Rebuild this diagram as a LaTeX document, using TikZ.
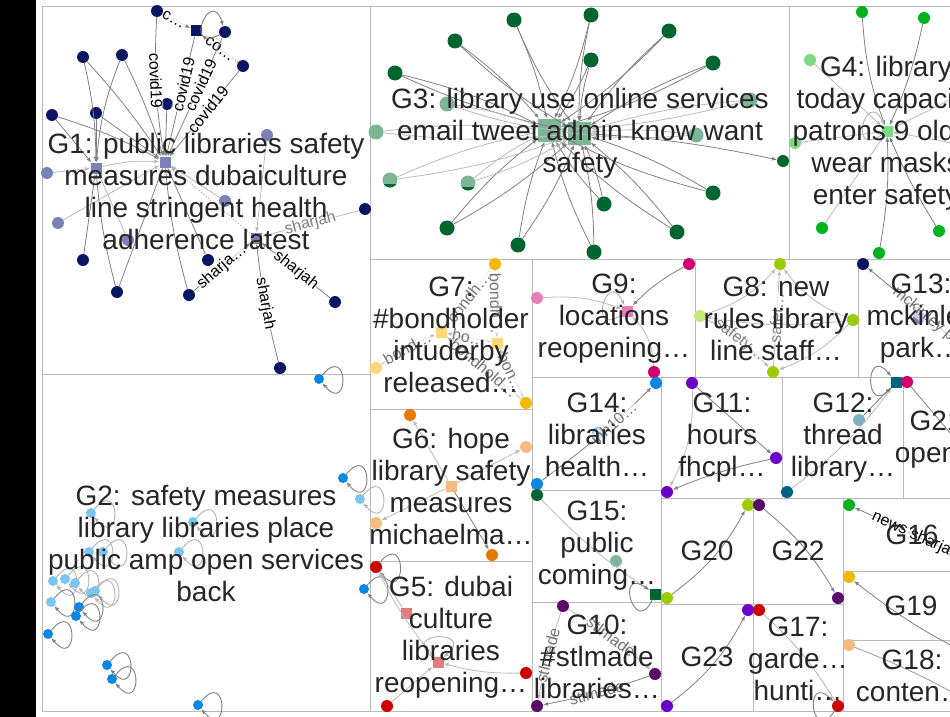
\documentclass[tikz,border=0pt]{standalone}
\usepackage{fontspec}
\setmainfont{Liberation Sans}
\usetikzlibrary{arrows.meta}

\definecolor{navy}{HTML}{0B1663}
\definecolor{slate}{HTML}{7B82B8}
\definecolor{azure}{HTML}{0A86E3}
\definecolor{skyblue}{HTML}{7CC5F0}
\definecolor{forest}{HTML}{00652F}
\definecolor{sage}{HTML}{7DB596}
\definecolor{grass}{HTML}{00B31E}
\definecolor{mint}{HTML}{7FD984}
\definecolor{amber}{HTML}{F5B800}
\definecolor{cream}{HTML}{FFD77A}
\definecolor{berry}{HTML}{D1006F}
\definecolor{rose}{HTML}{E87DB8}
\definecolor{lime}{HTML}{9BCB00}
\definecolor{palelime}{HTML}{C9E67D}
\definecolor{tangerine}{HTML}{E67A00}
\definecolor{peach}{HTML}{F5BB80}
\definecolor{crimson}{HTML}{CC0000}
\definecolor{salmon}{HTML}{E07E7E}
\definecolor{violet}{HTML}{6C00C8}
\definecolor{plum}{HTML}{5C0A6A}
\definecolor{petrol}{HTML}{00637F}
\definecolor{aqua}{HTML}{7FB1C4}

\begin{document}
\begin{tikzpicture}[
    x=1pt, y=-1pt,
    >={Latex[length=5pt,width=4pt]},
    group/.style={draw=black!27, line width=0.8pt},
    glabel/.style={text=black!85, align=center, inner sep=0pt,
        font=\fontsize{28}{32}\selectfont},
    vtx/.style={circle, fill=#1, inner sep=0pt, minimum size=12pt},
    bigvtx/.style={circle, fill=#1, inner sep=0pt, minimum size=15pt},
    smallvtx/.style={circle, fill=#1, inner sep=0pt, minimum size=10pt},
    halfvtx/.style 2 args={circle, inner sep=0pt, minimum size=15pt, fill=#1,
        path picture={\fill[#2] ([yshift=4pt]path picture bounding box.south west)
        rectangle (path picture bounding box.south east);}},
    hub/.style={rectangle, fill=#1, inner sep=0pt, minimum size=11pt},
    bighub/.style={rectangle, fill=#1, inner sep=0pt, minimum size=23pt},
    link/.style={->, draw=black!50, line width=0.8pt},
    flink/.style={->, draw=black!27, line width=0.8pt},
    dlink/.style={->, draw=black!50, line width=1pt, dotted},
    selfloop/.style={->, draw=black!50, line width=0.9pt},
    fselfloop/.style={->, draw=black!30, line width=0.9pt},
    around/.style={out=#1+50, in=#1-50, min distance=42pt},
    elabel/.style={font=\fontsize{16}{17}\selectfont, sloped, inner sep=0.5pt,
        fill=white, fill opacity=0.6, text opacity=1}
]
\useasboundingbox (0,0) rectangle (950,717);
\fill[black] (0,0) rectangle (36,717);
\begin{scope}
\clip (36,0) rectangle (950,717);

% group boxes
\draw[group] (42,6) rectangle (370,374);
\draw[group] (42,374) rectangle (370,711);
\draw[group] (370,6) rectangle (789,259);
\draw[group] (789,6) rectangle (990,259);
\draw[group] (370,259) rectangle (532,409);
\draw[group] (370,409) rectangle (532,561);
\draw[group] (370,561) rectangle (532,711);
\draw[group] (532,259) rectangle (695,377);
\draw[group] (695,259) rectangle (858,377);
\draw[group] (858,259) rectangle (990,377);
\draw[group] (532,377) rectangle (661,490);
\draw[group] (532,490) rectangle (661,602);
\draw[group] (532,602) rectangle (661,711);
\draw[group] (661,377) rectangle (782,498);
\draw[group] (782,377) rectangle (903,498);
\draw[group] (903,377) rectangle (990,498);
\draw[group] (661,498) rectangle (753,604);
\draw[group] (753,498) rectangle (843,604);
\draw[group] (661,604) rectangle (753,711);
\draw[group] (753,604) rectangle (843,711);
\draw[group] (843,498) rectangle (990,571);
\draw[group] (843,571) rectangle (990,640);
\draw[group] (843,640) rectangle (990,711);

% G1
\node[vtx=navy] (g1a) at (157,11) {};
\node[hub=navy] (g1sq) at (196,31) {};
\node[vtx=navy] (g1b) at (225,32) {};
\node[vtx=navy] (g1c) at (243,66) {};
\node[vtx=navy] (g1d) at (83,57) {};
\node[vtx=navy] (g1e) at (122,55) {};
\node[vtx=navy] (g1f) at (52,115) {};
\node[vtx=navy] (g1g) at (96,113) {};
\node[vtx=navy] (g1h) at (167,104) {};
\node[hub=slate] (g1left) at (96,168) {};
\node[hub=slate] (g1mid) at (165,162) {};
\node[vtx=slate] (g1i) at (47,173) {};
\node[vtx=slate] (g1j) at (58,223) {};
\node[vtx=slate] (g1k) at (267,135) {};
\node[vtx=slate] (g1l) at (225,201) {};
\node[vtx=slate] (g1m) at (128,240) {};
\node[hub=slate] (g1low) at (256,238) {};
\node[vtx=navy] (g1n) at (83,260) {};
\node[vtx=navy] (g1o) at (117,292) {};
\node[vtx=navy] (g1p) at (208,260) {};
\node[vtx=navy] (g1q) at (189,295) {};
\node[vtx=navy] (g1r) at (335,302) {};
\node[vtx=navy] (g1s) at (280,368) {};
\node[vtx=navy] (g1t) at (365,209) {};

\draw[dlink] (g1a) -- node[elabel, pos=0.4] {c…} (g1sq);
\draw[dlink] (g1c) -- node[elabel] {co…} (g1sq);
\draw[selfloop] (g1b) to[around=157] (g1b);
\draw[link] (g1a) to[bend right=6] node[elabel, pos=0.45] {covid19} (g1mid);
\draw[link] (g1sq) -- node[elabel, pos=0.4] {covid19} (g1mid);
\draw[link] (g1b) -- node[elabel, pos=0.4] {covid19} (g1mid);
\draw[link] (g1c) -- node[elabel, pos=0.45] {covid19} (g1mid);
\draw[link] (g1d) to[bend left=6] (g1left);
\draw[link] (g1d) to[bend left=4] (g1mid);
\draw[link] (g1e) to[bend right=8] (g1left);
\draw[link] (g1e) to[bend left=4] (g1mid);
\draw[link] (g1f) -- (g1left);
\draw[link] (g1f) to[bend left=5] (g1mid);
\draw[link] (g1g) -- (g1left);
\draw[link] (g1g) -- (g1mid);
\draw[link] (g1h) -- (g1mid);
\draw[flink] (g1i) -- (g1left);
\draw[flink] (g1j) -- (g1mid);
\draw[flink] (g1m) -- (g1left);
\draw[link] (g1n) -- (g1left);
\draw[link] (g1o) to[bend left=5] (g1left);
\draw[link] (g1o) -- (g1mid);
\draw[link] (g1p) -- (g1mid);
\draw[link] (g1q) to[bend left=5] (g1mid);
\draw[flink] (g1left) to[bend left=8] (g1mid);
\draw[flink] (g1l) -- (g1mid);
\draw[flink] (g1k) -- (g1low);
\draw[dlink, draw=black!35] (g1low) -- (g1mid);
\draw[flink] (g1t) -- node[elabel, text=black!50] {sharjah} (g1low);
\draw[link] (g1q) -- node[elabel] {sharja…} (g1low);
\draw[link] (g1r) -- node[elabel] {sharjah} (g1low);
\draw[link] (g1s) to[bend left=4] node[elabel] {sharjah} (g1low);

% G2
\foreach \x/\y/\c/\s [count=\i] in {
    319/379/azure/selfloop, 343/478/azure/selfloop, 360/499/skyblue/fselfloop,
    364/589/azure/selfloop, 91/513/skyblue/fselfloop, 193/522/skyblue/fselfloop,
    179/552/skyblue/fselfloop, 89/552/skyblue/fselfloop, 103/552/skyblue/fselfloop,
    53/581/skyblue/fselfloop, 65/579/skyblue/fselfloop, 75/583/skyblue/fselfloop,
    91/593/skyblue/fselfloop, 95/591/skyblue/fselfloop, 51/602/skyblue/selfloop,
    79/607/azure/selfloop, 76/616/azure/selfloop, 48/634/azure/selfloop,
    107/665/azure/selfloop, 112/679/azure/selfloop, 198/705/azure/selfloop} {
  \node[smallvtx=\c] (g2n\i) at (\x,\y) {};
  \draw[\s] (g2n\i) to[around=0] (g2n\i);
}

% G3
\node[bighub=sage] (g3hub) at (549,130) {};
\node[bighub=sage] (g3huba) at (579,133) {};
\node[bigvtx=forest] (g3a) at (514,20) {};
\node[bigvtx=forest] (g3b) at (591,15) {};
\node[bigvtx=forest] (g3c) at (669,31) {};
\node[bigvtx=forest] (g3d) at (455,41) {};
\node[bigvtx=forest] (g3e) at (591,60) {};
\node[bigvtx=forest] (g3f) at (713,63) {};
\node[bigvtx=forest] (g3g) at (395,73) {};
\node[bigvtx=sage] (g3h) at (750,100) {};
\node[bigvtx=sage] (g3i) at (447,104) {};
\node[bigvtx=sage] (g3j) at (376,132) {};
\node[bigvtx=sage] (g3k) at (696,135) {};
\node[vtx=forest] (g3l) at (783,161) {};
\node[halfvtx={sage}{forest}] (g3m) at (390,180) {};
\node[halfvtx={sage}{forest}] (g3n) at (468,183) {};
\node[bigvtx=forest] (g3o) at (713,193) {};
\node[bigvtx=forest] (g3p) at (604,204) {};
\node[bigvtx=forest] (g3q) at (447,228) {};
\node[bigvtx=forest] (g3r) at (677,232) {};
\node[bigvtx=forest] (g3s) at (518,245) {};
\node[bigvtx=forest] (g3t) at (594,252) {};
\foreach \n in {g3a,g3b,g3c,g3d,g3e,g3f,g3g,g3o,g3p,g3q,g3r,g3s,g3t} {
  \draw[link] (\n) to[bend left=6] (g3hub);
  \draw[link] (\n) to[bend right=6] (g3huba);
}
\foreach \n in {g3h,g3i,g3j,g3k,g3m,g3n} {
  \draw[flink] (\n) to[bend left=6] (g3hub);
  \draw[flink] (\n) to[bend right=6] (g3huba);
}
\draw[link] (g3huba) to[bend left=4] (g3l);

% G4
\node[hub=mint] (g4hub) at (887,131) {};
\node[vtx=grass] (g4a) at (862,12) {};
\node[vtx=grass] (g4b) at (924,18) {};
\node[vtx=mint] (g4c) at (810,60) {};
\node[vtx=mint] (g4d) at (795,143) {};
\node[vtx=grass] (g4e) at (822,228) {};
\node[vtx=grass] (g4f) at (939,231) {};
\node[vtx=grass] (g4g) at (879,253) {};
\coordinate (g4x) at (990,80);
\coordinate (g4y) at (990,150);
\draw[link] (g4a) to[bend right=8] (g4hub);
\draw[link] (g4b) to[bend left=6] (g4hub);
\draw[flink] (g4c) -- (g4hub);
\draw[flink] (g4d) -- (g4hub);
\draw[flink] (g4e) -- (g4hub);
\draw[link] (g4f) to[bend left=4] (g4hub);
\draw[link] (g4g) to[bend right=6] (g4hub);
\draw[flink] (g4x) -- (g4hub);
\draw[flink] (g4y) -- (g4hub);
\draw[fselfloop] (g4hub) to[around=165] (g4hub);

% G7
\node[vtx=amber] (g7a) at (495,264) {};
\node[hub=cream] (g7sq) at (441,332) {};
\node[hub=cream] (g7sqb) at (497,343) {};
\node[vtx=cream] (g7b) at (376,368) {};
\node[vtx=amber] (g7c) at (526,403) {};
\draw[flink, dotted, line width=1pt] (g7a) -- node[elabel, text=black!55] {bondh…} (g7sq);
\draw[flink, dotted, line width=1pt] (g7a) -- node[elabel, text=black!55] {bondh…} (g7sqb);
\draw[flink] (g7sqb) -- node[elabel, text=black!55] {bo…} (g7sq);
\draw[flink] (g7b) to[bend left=6] node[elabel, text=black!55] {bond…} (g7sq);
\draw[flink] (g7c) -- node[elabel, text=black!55] {bondhold…} (g7sq);
\draw[flink] (g7c) -- node[elabel, text=black!55] {bon…} (g7sqb);

% G9
\node[vtx=berry] (g9a) at (689,264) {};
\node[hub=rose] (g9sq) at (627,311) {};
\node[vtx=rose] (g9b) at (537,298) {};
\node[vtx=berry] (g9c) at (654,372) {};
\draw[link] (g9a) to[bend right=8] (g9sq);
\draw[flink] (g9b) to[bend left=12] (g9sq);
\draw[flink] (g9c) to[bend right=20] (g9sq);
\draw[fselfloop] (g9sq) to[around=165] (g9sq);

% G8
\node[vtx=lime] (g8a) at (780,264) {};
\node[vtx=palelime] (g8b) at (700,316) {};
\node[vtx=lime] (g8c) at (853,320) {};
\node[vtx=lime] (g8d) at (773,372) {};
\draw[flink] (g8b) to[bend right=15] (g8a);
\draw[flink] (g8c) to[bend left=15] (g8a);
\draw[flink] (g8c) to[bend left=8] (g8b);
\draw[flink] (g8d) -- node[elabel, text=black!50] {safet…} (g8a);
\draw[flink] (g8b) to[bend left=10] node[elabel, text=black!50] {safety…} (g8d);
\draw[flink] (g8c) to[bend left=12] (g8d);

% G13
\node[vtx=navy] (g13a) at (863,264) {};
\node[vtx=slate] (g13b) at (919,318) {};
\coordinate (g13out) at (985,365);
\draw[link] (g13out) -- node[elabel, text=black!55, pos=0.45] {mckinley park} (g13a);

% G12
\node[hub=petrol] (g12sq) at (896,382) {};
\node[vtx=aqua] (g12a) at (859,420) {};
\node[vtx=petrol] (g12b) at (787,492) {};
\draw[flink] (g12b) to[bend right=8] (g12sq);
\draw[link] (g12a) -- (g12sq);
\draw[selfloop] (g12sq) to[around=180] (g12sq);

% G21
\node[vtx=berry] (g21a) at (907,382) {};
\coordinate (g21out) at (990,480);
\draw[draw=black!50, line width=0.8pt] (g21a) -- (g21out);

% G11
\node[vtx=violet] (g11a) at (692,383) {};
\node[vtx=violet] (g11b) at (776,458) {};
\node[vtx=violet] (g11c) at (667,492) {};
\draw[link] (g11a) -- (g11b);
\draw[flink] (g11a) to[bend left=15] (g11c);
\draw[link] (g11b) to[bend right=5] (g11c);

% G14
\node[vtx=azure] (g14a) at (656,383) {};
\node[vtx=skyblue] (g14b) at (598,433) {};
\node[vtx=azure] (g14c) at (537,484) {};
\draw[link] (g14c) to[bend right=4] node[elabel, text=black!55, pos=0.65] {inh10…} (g14a);

% G6
\node[hub=peach] (g6sq) at (451,486) {};
\node[vtx=tangerine] (g6a) at (410,415) {};
\node[vtx=peach] (g6b) at (526,447) {};
\node[vtx=peach] (g6c) at (376,523) {};
\node[vtx=tangerine] (g6d) at (492,555) {};
\draw[flink] (g6sq) -- (g6a);
\draw[flink] (g6sq) -- (g6b);
\draw[flink] (g6sq) -- (g6c);
\draw[link] (g6sq) -- (g6d);

% G5
\node[vtx=crimson] (g5a) at (376,567) {};
\node[hub=salmon] (g5sq) at (406,613) {};
\node[hub=salmon] (g5sqb) at (438,662) {};
\node[vtx=crimson] (g5b) at (526,673) {};
\node[vtx=crimson] (g5c) at (387,706) {};
\draw[selfloop] (g5a) to[around=0] (g5a);
\draw[fselfloop] (g5sqb) to[around=90] (g5sqb);
\draw[flink] (g5sq) -- (g5a);
\draw[flink] (g5sqb) to[bend left=6] (g5a);
\draw[flink] (g5b) to[bend left=8] (g5sqb);
\draw[flink] (g5c) -- (g5sqb);

% G15
\node[vtx=forest] (g15a) at (537,495) {};
\node[vtx=sage] (g15b) at (616,561) {};
\node[hub=forest] (g15sq) at (655,594) {};
\draw[flink] (g15a) to[bend right=6] (g15sq);
\draw[selfloop] (g15sq) to[around=195] (g15sq);

% G10
\node[vtx=plum] (g10a) at (563,606) {};
\node[vtx=plum] (g10b) at (655,674) {};
\node[vtx=plum] (g10c) at (537,706) {};
\draw[flink] (g10a) to[bend left=6] node[elabel, text=black!55] {stlmade} (g10b);
\draw[flink] (g10a) to[bend right=4] node[elabel, text=black!55] {stlmade} (g10c);
\draw[link] (g10b) to[bend left=4] node[elabel, text=black!55] {stlmade} (g10c);

% G20, G22, G23, G17
\node[vtx=lime] (g20a) at (748,505) {};
\node[vtx=lime] (g20b) at (667,598) {};
\draw[link] (g20b) to[bend right=12] (g20a);
\node[vtx=plum] (g22a) at (759,505) {};
\node[vtx=plum] (g22b) at (838,598) {};
\draw[link] (g22a) to[bend left=10] (g22b);
\node[vtx=violet] (g23a) at (748,610) {};
\node[vtx=violet] (g23b) at (667,706) {};
\draw[link] (g23b) to[bend right=12] (g23a);
\node[vtx=crimson] (g17a) at (759,610) {};
\node[vtx=crimson] (g17b) at (838,706) {};
\draw[draw=black!30, line width=0.8pt] (g17b) to[bend right=8] (g17a);
\draw[selfloop] (g17b) to[around=185] (g17b);

% G16, G19, G18
\node[vtx=grass] (g16a) at (849,505) {};
\coordinate (g16out) at (990,570);
\draw[link] (g16out) -- node[elabel, pos=0.55] {news sharjah} (g16a);
\node[vtx=amber] (g19a) at (849,577) {};
\coordinate (g19out) at (980,660);
\draw[link] (g19out) to[bend left=6] (g19a);
\node[vtx=peach] (g18a) at (849,645) {};
\coordinate (g18out) at (975,705);
\draw[draw=black!40, line width=0.8pt] (g18a) to[bend left=4] (g18out);

% group labels
\node[glabel] (t1) at (206,191) {G1: public libraries safety\\measures dubaiculture\\line stringent health\\adherence latest};
\node[glabel] (t2) at (206,543) {G2: safety measures\\library libraries place\\public amp open services\\back};
\node[glabel] (t3) at (580,133) {G3: library use online services\\email tweet admin know want\\safety};
\node[glabel] (t4) at (886,133) {G4: library\\today capacity\\patrons 9 older\\wear masks\\enter safety};
\node[glabel] (t7) at (451,335) {G7:\\\#bondholder\\intuderby\\released…};
\node[glabel] (t9) at (614,319) {G9:\\locations\\reopening…};
\node[glabel] (t8) at (776,319) {G8: new\\rules library\\line staff…};
\node[glabel] (t13) at (921,319) {G13:\\mckinley\\park…};
\node[glabel] (t14) at (597,435) {G14:\\libraries\\health…};
\node[glabel] (t11) at (722,438) {G11:\\hours\\fhcpl…};
\node[glabel] (t12) at (843,438) {G12:\\thread\\library…};
\node[glabel] (t21) at (940,440) {G21:\\open…};
\node[glabel] (t6) at (451,486) {G6: hope\\library safety\\measures\\michaelma…};
\node[glabel] (t5) at (451,637) {G5: dubai\\culture\\libraries\\reopening…};
\node[glabel] (t15) at (597,546) {G15:\\public\\coming…};
\node[glabel] (t10) at (597,657) {G10:\\\#stlmade\\libraries…};
\node[glabel] (t20) at (707,551) {G20};
\node[glabel] (t22) at (798,551) {G22};
\node[glabel] (t23) at (707,657) {G23};
\node[glabel] (t17) at (798,659) {G17:\\garde…\\hunti…};
\node[glabel] (t16) at (912,535) {G16};
\node[glabel] (t19) at (911,606) {G19};
\node[glabel] (t18) at (912,676) {G18:\\conten…};
\end{scope}
\end{tikzpicture}
\end{document}
